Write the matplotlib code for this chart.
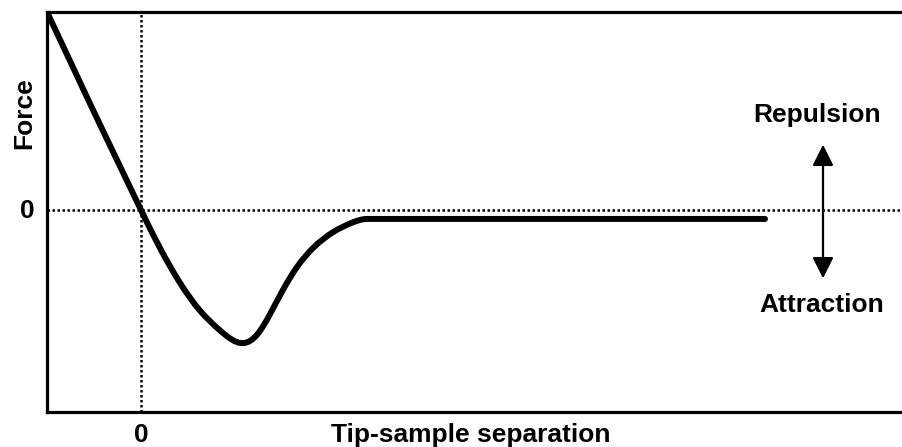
import numpy as np
import matplotlib
matplotlib.use("Agg")
import matplotlib.pyplot as plt
from matplotlib.path import Path
from matplotlib.patches import PathPatch

plt.rcParams['font.family'] = ['Liberation Sans', 'DejaVu Sans']
plt.rcParams['font.weight'] = 'bold'

# force vs tip-sample separation (arbitrary units)
separation = [-0.94, -0.71, -0.47, -0.23, 0.0, 0.19, 0.39, 0.59, 0.79, 1.02,
              1.16, 1.29, 1.42, 1.56, 1.72, 1.92, 2.12, 2.26, 6.24]
force = [1.0, 0.753, 0.495, 0.242, 0.0, -0.192, -0.368, -0.508, -0.608, -0.672,
         -0.63, -0.526, -0.403, -0.288, -0.192, -0.112, -0.062, -0.045, -0.045]


def spline_slopes(x, y):
    # cubic spline slopes: natural at the start, flat at the end
    n = len(x)
    h = np.diff(x)
    d = np.diff(y) / h
    A = np.zeros((n, n))
    b = np.zeros(n)
    A[0, 0], A[0, 1], b[0] = 2, 1, 3 * d[0]
    for i in range(1, n - 1):
        A[i, i - 1] = h[i]
        A[i, i] = 2 * (h[i - 1] + h[i])
        A[i, i + 1] = h[i - 1]
        b[i] = 3 * (h[i] * d[i - 1] + h[i - 1] * d[i])
    A[-1, -1] = 1
    return np.linalg.solve(A, b)


def force_path(xs, ys):
    x = np.asarray(xs, float)
    y = np.asarray(ys, float)
    # curved part up to the start of the plateau, then a straight run
    x_c, y_c = x[:-1], y[:-1]
    m = spline_slopes(x_c, y_c)
    verts = [(x_c[0], y_c[0])]
    codes = [Path.MOVETO]
    for i in range(len(x_c) - 1):
        h = x_c[i + 1] - x_c[i]
        verts += [(x_c[i] + h / 3, y_c[i] + m[i] * h / 3),
                  (x_c[i + 1] - h / 3, y_c[i + 1] - m[i + 1] * h / 3),
                  (x_c[i + 1], y_c[i + 1])]
        codes += [Path.CURVE4] * 3
    verts.append((x[-1], y[-1]))
    codes.append(Path.LINETO)
    return Path(verts, codes)


fig = plt.figure(figsize=(9.02, 4.47), dpi=100)
ax = fig.add_axes([47 / 902, 35 / 447, 1 - 47 / 902, 400 / 447])

ax.add_patch(PathPatch(force_path(separation, force), fill=False,
                       edgecolor='black', lw=4.3, capstyle='round',
                       joinstyle='round', zorder=3))

# zero reference lines
ax.axhline(0, color='black', lw=1.8, ls=(0, (1, 1)), zorder=2)
ax.axvline(0, color='black', lw=1.8, ls=(0, (1, 1)), zorder=2)

ax.set_xlim(-0.94, 7.61)
ax.set_ylim(-1.02, 1.0)

for side in ['left', 'top', 'bottom']:
    ax.spines[side].set_linewidth(2.3)
ax.spines['right'].set_visible(False)
ax.set_xticks([])
ax.set_yticks([])

fs = 19

# repulsion / attraction arrow
ax.annotate('', xy=(6.82, 0.33), xytext=(6.82, -0.345),
            arrowprops=dict(arrowstyle='<|-|>', color='black', lw=1.6,
                            mutation_scale=32, shrinkA=0, shrinkB=0))
ax.text(6.76, 0.48, 'Repulsion', ha='center', va='center', fontsize=fs,
        fontweight='bold')
ax.text(6.81, -0.48, 'Attraction', ha='center', va='center', fontsize=fs,
        fontweight='bold')

fig.text(141 / 902, 1 - 442 / 447, '0', ha='center', va='baseline',
         fontsize=fs, fontweight='bold')
fig.text(27 / 902, 1 - 211 / 447, '0', ha='center', va='center', fontsize=fs,
         fontweight='bold')
fig.text(471 / 902, 1 - 442 / 447, 'Tip-sample separation', ha='center',
         va='baseline', fontsize=fs, fontweight='bold')
fig.text(24 / 902, 1 - 113 / 447, 'Force', ha='center', va='center',
         rotation=90, fontsize=fs, fontweight='bold')

fig.savefig('out.png', dpi=100)
